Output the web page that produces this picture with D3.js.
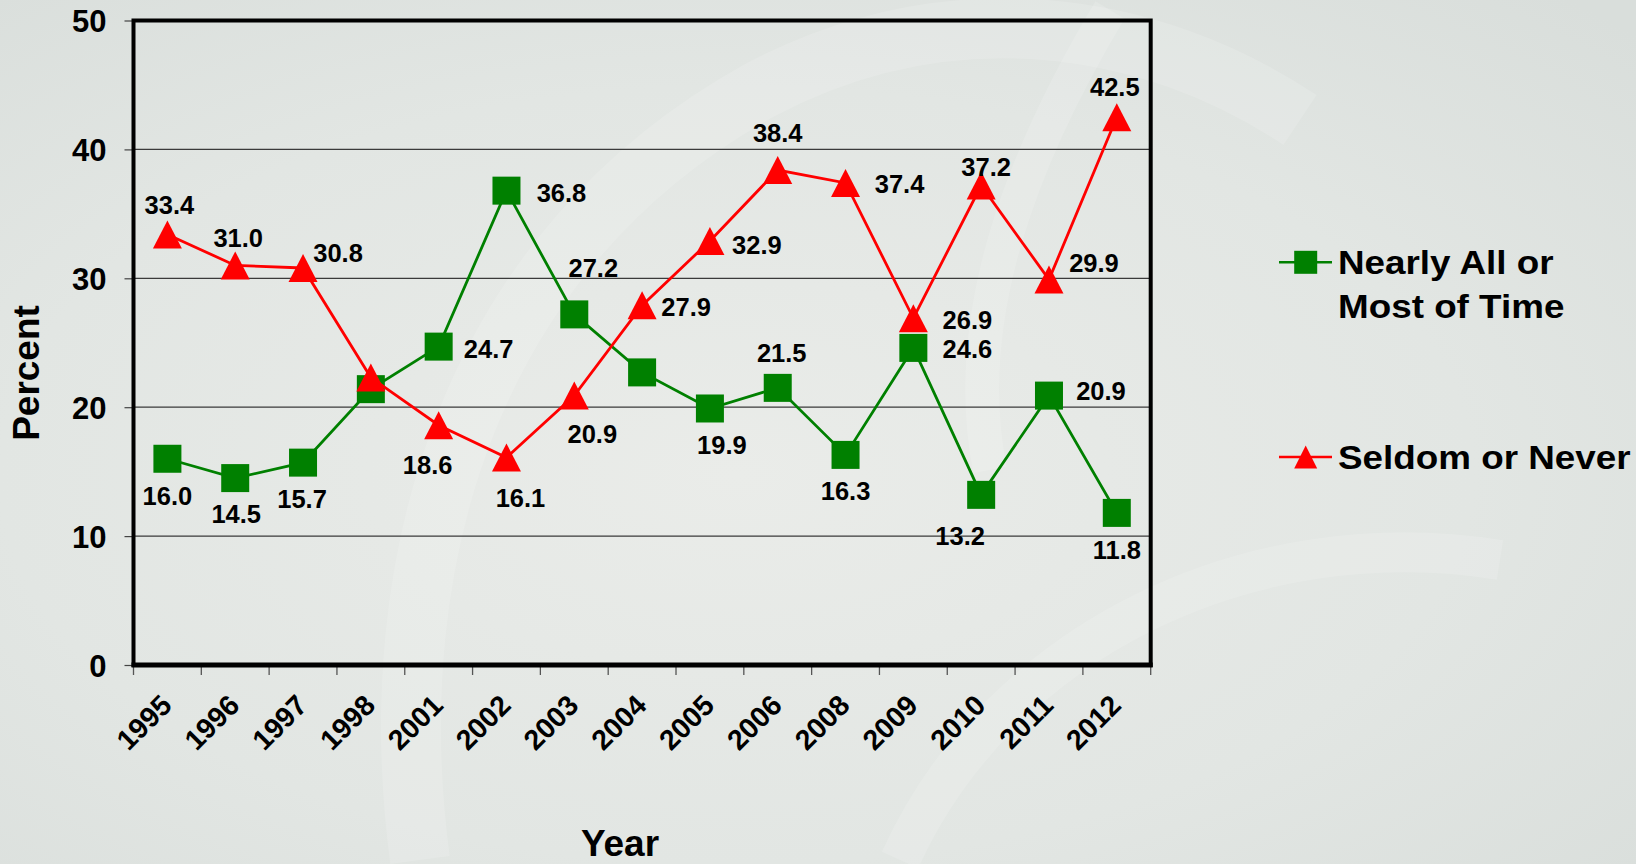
<!DOCTYPE html>
<html>
<head>
<meta charset="utf-8">
<script src="https://cdn.jsdelivr.net/npm/d3@7/dist/d3.min.js"></script>
<style>
  html, body { margin: 0; padding: 0; background: #e2e6e3; }
  svg { display: block; }
  text { font-family: "Liberation Sans", Arial, sans-serif; font-weight: bold; fill: #000; }
</style>
</head>
<body>
<svg id="chart" width="1636" height="864"></svg>
<script>
// ---------------- data ----------------
const years = ["1995","1996","1997","1998","2001","2002","2003","2004","2005","2006","2008","2009","2010","2011","2012"];
const nearlyAll = [16.0,14.5,15.7,21.4,24.7,36.8,27.2,22.7,19.9,21.5,16.3,24.6,13.2,20.9,11.8];
const seldom    = [33.4,31.0,30.8,22.3,18.6,16.1,20.9,27.9,32.9,38.4,37.4,26.9,37.2,29.9,42.5];
const yTicks = [0,10,20,30,40,50];
const seriesNames = ["Nearly All or|Most of Time", "Seldom or Never"];

// label placement (offset of label centre from the marker, px); null = no label
const nearlyAllLabelPos = [[0,37],[1,36],[-1,36],null,[50,2],[55,2],[19,-47],null,[12,36],[4,-35],[0,36],[54,1],[-21,41],[52,-5],[0,37]];
const seldomLabelPos    = [[2,-30],[3,-28],[35,-15],null,[-11,40],[14,40],[18,38],[44,1],[47,4],[0,-37],[54,1],[54,2],[5,-19],[45,-17],[-2,-30]];

// ---------------- layout ----------------
const svg = d3.select("#chart");
const W = 1636, H = 864;
const plot = { left: 133.5, right: 1150.7, top: 20.5, bottom: 665 };

// background
const defs = svg.append("defs");
const rg = defs.append("radialGradient").attr("id","bg").attr("cx","0.45").attr("cy","0.55").attr("r","0.75");
rg.append("stop").attr("offset","0").attr("stop-color","#eaece9");
rg.append("stop").attr("offset","0.6").attr("stop-color","#e2e6e3");
rg.append("stop").attr("offset","1").attr("stop-color","#d9dedb");
svg.append("rect").attr("width",W).attr("height",H).attr("fill","url(#bg)");
// faint watermark shapes
const wm = svg.append("g").attr("fill","none").attr("stroke","#ffffff").attr("stroke-opacity",0.14);
wm.append("path").attr("stroke-width",60).attr("d","M 420 860 C 380 560 470 250 760 90 C 950 -10 1150 20 1300 120");
wm.append("path").attr("stroke-width",40).attr("d","M 900 860 C 1000 640 1250 520 1500 560");
wm.append("path").attr("stroke-width",34).attr("d","M 1110 10 C 1020 160 960 320 990 470");

const x = d3.scaleBand().domain(years).range([plot.left, plot.right]).padding(0);
const y = d3.scaleLinear().domain([0,50]).range([plot.bottom, plot.top]);

// gridlines
svg.append("g").selectAll("line").data(yTicks.filter(d => d > 0 && d < 50)).join("line")
  .attr("x1", plot.left).attr("x2", plot.right)
  .attr("y1", d => y(d)).attr("y2", d => y(d))
  .attr("stroke", "#3a3a3a").attr("stroke-width", 1.2);

// y axis ticks + labels
const yAxis = d3.axisLeft(y).tickValues(yTicks).tickSize(9).tickPadding(18).tickFormat(d3.format("d"));
const ya = svg.append("g").attr("transform", `translate(${plot.left},0)`).call(yAxis);
ya.select(".domain").remove();
ya.selectAll(".tick line").attr("stroke", "#444").attr("stroke-width", 1.2);
ya.selectAll(".tick text").attr("font-size", 31).attr("fill", "#000")
  .style("font-family", '"Liberation Sans", Arial, sans-serif').style("font-weight", "bold")
  .attr("dy", "0.36em");

// x axis ticks (at category boundaries)
const bounds = years.map(d => x(d)).concat([plot.right]);
svg.append("g").selectAll("line").data(bounds).join("line")
  .attr("x1", d => d).attr("x2", d => d)
  .attr("y1", plot.bottom).attr("y2", plot.bottom + 10)
  .attr("stroke", "#555").attr("stroke-width", 1.3);

// x labels
svg.append("g").selectAll("text").data(years).join("text")
  .attr("text-anchor", "end").attr("font-size", 28.5)
  .attr("transform", d => `translate(${x(d) + x.bandwidth()/2 + 6},${plot.bottom + 42}) rotate(-45)`)
  .text(d => d);

// plot frame
svg.append("rect").attr("x", plot.left).attr("y", plot.top)
  .attr("width", plot.right - plot.left).attr("height", plot.bottom - plot.top)
  .attr("fill", "none").attr("stroke", "#000").attr("stroke-width", 4);
svg.append("line").attr("x1", plot.left - 2).attr("x2", plot.right + 2)
  .attr("y1", plot.bottom).attr("y2", plot.bottom).attr("stroke", "#000").attr("stroke-width", 5);

// axis titles
svg.append("text").attr("text-anchor", "middle").attr("font-size", 37)
  .attr("transform", `translate(39,373) rotate(-90)`).text("Percent");
svg.append("text").attr("text-anchor", "middle").attr("font-size", 37)
  .attr("x", 620).attr("y", 856).text("Year");

// series
const cx = i => x(years[i]) + x.bandwidth()/2;
const line = d3.line().x((d,i) => cx(i)).y(d => y(d));
const GREEN = "#008000", RED = "#ff0000";
const sq = 28;

function triPath(w, h) { return `M0,${-h/2} L${w/2},${h/2} L${-w/2},${h/2} Z`; }

// green
svg.append("path").datum(nearlyAll).attr("d", line).attr("fill","none").attr("stroke",GREEN).attr("stroke-width",2.8);
svg.append("g").selectAll("rect").data(nearlyAll).join("rect")
  .attr("x", (d,i) => cx(i) - sq/2).attr("y", d => y(d) - sq/2)
  .attr("width", sq).attr("height", sq).attr("fill", GREEN);
// red
svg.append("path").datum(seldom).attr("d", line).attr("fill","none").attr("stroke",RED).attr("stroke-width",2.8);
svg.append("g").selectAll("path").data(seldom).join("path")
  .attr("transform", (d,i) => `translate(${cx(i)},${y(d)})`)
  .attr("d", triPath(29, 28)).attr("fill", RED);

// data labels
function labels(values, pos) {
  svg.append("g").selectAll("text").data(values.map((v,i) => ({v, i, p: pos[i]})).filter(d => d.p)).join("text")
    .attr("text-anchor", "middle").attr("font-size", 25.5).attr("dy", "0.36em")
    .attr("x", d => cx(d.i) + d.p[0]).attr("y", d => y(d.v) + d.p[1])
    .text(d => d3.format(".1f")(d.v));
}
labels(nearlyAll, nearlyAllLabelPos);
labels(seldom, seldomLabelPos);

// legend
const lg = svg.append("g");
const legendRows = [{y: 262.3, color: GREEN, shape: "sq"}, {y: 457, color: RED, shape: "tri"}];
legendRows.forEach((r, k) => {
  lg.append("line").attr("x1", 1279).attr("x2", 1332).attr("y1", r.y).attr("y2", r.y)
    .attr("stroke", r.color).attr("stroke-width", 2.6);
  if (r.shape === "sq") {
    lg.append("rect").attr("x", 1305.7 - 11.5).attr("y", r.y - 11.5).attr("width", 23).attr("height", 23).attr("fill", r.color);
  } else {
    lg.append("path").attr("transform", `translate(1305.7,${r.y})`).attr("d", triPath(23, 23)).attr("fill", r.color);
  }
  const lines = seriesNames[k].split("|");
  lines.forEach((t, j) => {
    lg.append("text").attr("font-size", 32.6)
      .attr("transform", `translate(1338,${r.y + 12 + j*43.3}) scale(1.13,1)`)
      .text(t);
  });
});
</script>
</body>
</html>
